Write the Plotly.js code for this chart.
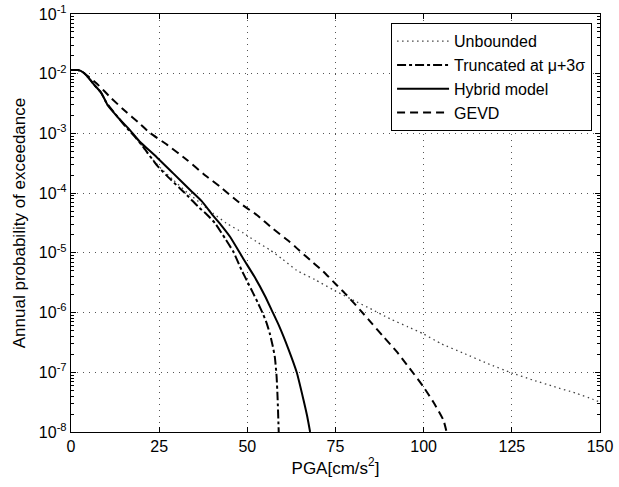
<!DOCTYPE html>
<html>
<head>
<meta charset="utf-8">
<script src="https://cdn.plot.ly/plotly-3.0.1.min.js"></script>
<style>html,body{margin:0;padding:0;background:#fff;}#chart{width:619px;height:487px;}</style>
</head>
<body>
<div id="chart"></div>
<script>
// PGA [cm/s^2] and annual probability of exceedance
const unboundedX = [0, 2, 3.5, 5, 6.5, 8.5, 10, 13.3, 16, 18.5, 22.4, 25.5, 29, 33, 37, 40.3, 44, 48.9, 52.5, 56.4, 60, 64, 69.2, 74.4, 81, 84.8, 90.4, 95.6, 99.9, 105, 111.2, 118, 124.9, 131, 137, 143, 148.1, 150];
const unboundedY = [1.15e-2, 1.15e-2, 1.05e-2, 8.5e-3, 6.6e-3, 4.8e-3, 3.3e-3, 1.86e-3, 1.2e-3, 8.3e-4, 4.1e-4, 2.6e-4, 1.66e-4, 1.02e-4, 6.6e-5, 4.6e-5, 3.16e-5, 2.14e-5, 1.55e-5, 1.12e-5, 7.8e-6, 5.1e-6, 3.55e-6, 2.4e-6, 1.51e-6, 1.17e-6, 7.9e-7, 5.75e-7, 4.4e-7, 3.0e-7, 2.1e-7, 1.41e-7, 9.8e-8, 7.4e-8, 5.75e-8, 4.5e-8, 3.5e-8, 3.16e-8];

const truncX = [0, 2, 3.5, 5, 6.5, 8.5, 10, 13.3, 16, 18.5, 21, 24.3, 27, 30.9, 33.5, 36.1, 38.5, 40.8, 43.7, 46, 48.4, 50, 51.6, 53, 54.5, 55.5, 56.4, 57.2, 57.8, 58.3, 58.6, 58.9];
const truncY = [1.15e-2, 1.15e-2, 1.05e-2, 8.5e-3, 6.6e-3, 4.8e-3, 3.3e-3, 1.86e-3, 1.2e-3, 8.3e-4, 5.4e-4, 2.95e-4, 2.0e-4, 1.2e-4, 8.5e-5, 5.9e-5, 4.4e-5, 3.16e-5, 1.74e-5, 1.05e-5, 5.1e-6, 3.3e-6, 2.14e-6, 1.45e-6, 9.3e-7, 6.6e-7, 4.4e-7, 2.75e-7, 1.8e-7, 8.5e-8, 3.5e-8, 1.0e-8];

const hybridX = [0, 2, 3.5, 5, 6.5, 8.5, 9.3, 10.5, 13.3, 16, 18.1, 19.6, 24.3, 29, 34, 37, 40.3, 42.5, 45.1, 48.9, 52, 55, 57, 59, 61.6, 64, 65.9, 67, 67.8];
const hybridY = [1.15e-2, 1.15e-2, 1.05e-2, 8.5e-3, 6.6e-3, 4.9e-3, 4.0e-3, 2.9e-3, 1.86e-3, 1.26e-3, 9.1e-4, 7.2e-4, 4.0e-4, 2.14e-4, 1.1e-4, 7.4e-5, 4.2e-5, 2.95e-5, 1.86e-5, 7.9e-6, 4.0e-6, 1.9e-6, 1.07e-6, 6.0e-7, 2.5e-7, 1.0e-7, 3.5e-8, 1.8e-8, 1.0e-8];

const gevdX = [0, 2, 3.5, 5, 7.7, 11.4, 15.6, 19, 22.4, 27.2, 32.9, 38, 42.2, 47.9, 52.7, 57.4, 62.1, 64, 67.8, 71.5, 75.3, 78.2, 82, 85.3, 88.5, 92.3, 96, 99.9, 103, 105.6, 106.5];
const gevdY = [1.15e-2, 1.15e-2, 1.05e-2, 8.9e-3, 6.5e-3, 3.9e-3, 2.3e-3, 1.55e-3, 1.02e-3, 6.5e-4, 3.6e-4, 2.0e-4, 1.29e-4, 6.8e-5, 4.3e-5, 2.5e-5, 1.51e-5, 1.2e-5, 7.6e-6, 4.9e-6, 2.9e-6, 1.95e-6, 1.1e-6, 6.6e-7, 4.0e-7, 2.24e-7, 1.17e-7, 5.75e-8, 3.0e-8, 1.58e-8, 1.0e-8];

const seriesNames = ["Unbounded", "Truncated at \u03bc+3\u03c3", "Hybrid model", "GEVD"];
const xTickVals = [0, 25, 50, 75, 100, 125, 150];
const yTickVals = [1e-8, 1e-7, 1e-6, 1e-5, 1e-4, 1e-3, 1e-2, 1e-1];
const yTickText = ["10<sup>-8</sup>", "10<sup>-7</sup>", "10<sup>-6</sup>", "10<sup>-5</sup>", "10<sup>-4</sup>", "10<sup>-3</sup>", "10<sup>-2</sup>", "10<sup>-1</sup>"];

// minor (log) tick positions 2..9 within each decade
const yMinorVals = [];
for (let e = -8; e < -1; e++) { for (let m = 2; m <= 9; m++) { yMinorVals.push(m * Math.pow(10, e)); } }

const FONT = "'Liberation Sans', Arial, Helvetica, sans-serif";

const traces = [
  {x: unboundedX, y: unboundedY, name: seriesNames[0], mode: "lines", line: {color: "#444", width: 1.3, dash: "1.5px,3.5px", shape: "spline", smoothing: 0.5}},
  {x: truncX, y: truncY, name: seriesNames[1], mode: "lines", line: {color: "#000", width: 2, dash: "dashdot", shape: "spline", smoothing: 0.5}},
  {x: hybridX, y: hybridY, name: seriesNames[2], mode: "lines", line: {color: "#000", width: 2, dash: "solid", shape: "spline", smoothing: 0.5}},
  {x: gevdX, y: gevdY, name: seriesNames[3], mode: "lines", line: {color: "#000", width: 2, dash: "8px,5px", shape: "spline", smoothing: 0.5}}
];

const axisCommon = {
  showline: true, linecolor: "#000", linewidth: 1.2, mirror: "ticks",
  ticks: "inside", ticklen: 5, tickcolor: "#000", tickwidth: 1,
  showgrid: true, gridcolor: "#555", griddash: "1px,5px", gridwidth: 1,
  zeroline: false, tickfont: {family: FONT, size: 16, color: "#000"}
};

const layout = {
  width: 619, height: 487,
  margin: {l: 71, r: 19, t: 14, b: 55},
  paper_bgcolor: "#fff", plot_bgcolor: "#fff",
  font: {family: FONT, color: "#000"},
  showlegend: true,
  legend: {
    x: 0.985, y: 0.978, xanchor: "right", yanchor: "top",
    bgcolor: "#fff", bordercolor: "#000", borderwidth: 1,
    font: {family: FONT, size: 16, color: "#000"},
    itemwidth: 52, tracegroupgap: 0
  },
  xaxis: Object.assign({}, axisCommon, {
    range: [0, 150], tickmode: "array", tickvals: xTickVals,
    title: {text: "PGA[cm/s<sup>2</sup>]", font: {family: FONT, size: 17, color: "#000"}, standoff: 6}
  }),
  yaxis: Object.assign({}, axisCommon, {
    type: "log", range: [-8, -1], tickmode: "array", tickvals: yTickVals, ticktext: yTickText,
    minor: {tickmode: "array", tickvals: yMinorVals, ticks: "inside", ticklen: 3, tickcolor: "#000", showgrid: false},
    title: {text: "Annual probability of exceedance", font: {family: FONT, size: 17, color: "#000"}, standoff: 8}
  })
};

Plotly.newPlot("chart", traces, layout, {staticPlot: true, displayModeBar: false});
</script>
</body>
</html>
